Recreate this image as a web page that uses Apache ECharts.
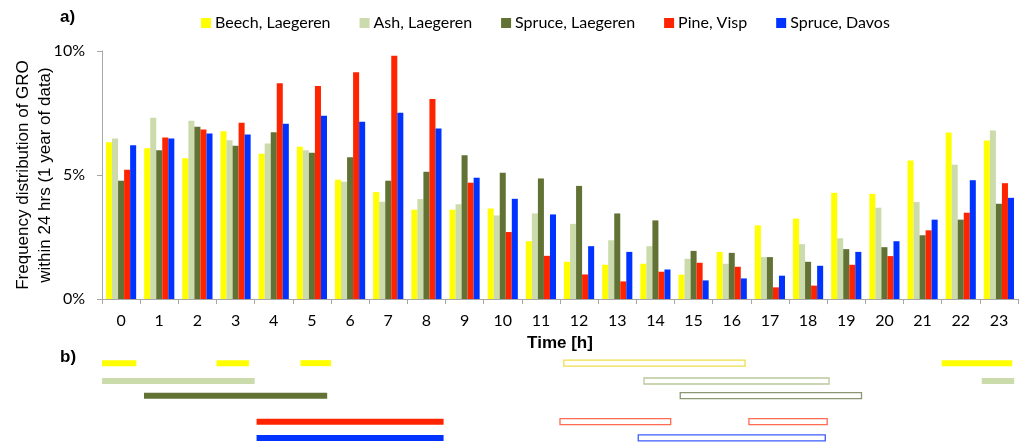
<!DOCTYPE html>
<html>
<head>
<meta charset="utf-8">
<script src="https://cdn.jsdelivr.net/npm/echarts@6/dist/echarts.min.js"></script>
<style>
html,body{margin:0;padding:0;background:#fff;}
#chart{width:1024px;height:448px;}
</style>
</head>
<body>
<div id="chart"></div>
<script>
// ---------- DATA ----------
const hours = ['0','1','2','3','4','5','6','7','8','9','10','11','12','13','14','15','16','17','18','19','20','21','22','23'];
const seriesNames = ['Beech, Laegeren','Ash, Laegeren','Spruce, Laegeren','Pine, Visp','Spruce, Davos'];
const beechLaegeren  = [6.32,6.08,5.68,6.76,5.86,6.14,4.81,4.31,3.60,3.60,3.65,2.33,1.50,1.38,1.42,0.98,1.90,2.97,3.24,4.28,4.24,5.58,6.71,6.39];
const ashLaegeren    = [6.47,7.31,7.19,6.40,6.27,6.00,4.73,3.92,4.03,3.82,3.37,3.45,3.03,2.37,2.13,1.62,1.42,1.69,2.21,2.45,3.68,3.91,5.41,6.79];
const spruceLaegeren = [4.77,6.00,6.95,6.18,6.72,5.90,5.72,4.77,5.13,5.80,5.09,4.86,4.56,3.45,3.17,1.94,1.86,1.69,1.50,2.01,2.09,2.57,3.20,3.84];
const pineVisp       = [5.21,6.51,6.83,7.11,8.70,8.59,9.14,9.81,8.06,4.69,2.70,1.74,0.99,0.71,1.10,1.46,1.30,0.47,0.54,1.38,1.73,2.77,3.48,4.67];
const spruceDavos    = [6.20,6.47,6.67,6.63,7.07,7.39,7.15,7.51,6.87,4.89,4.04,3.41,2.13,1.90,1.19,0.75,0.83,0.94,1.34,1.90,2.33,3.20,4.79,4.08];
const yTicks = [0,5,10];

// panel b: periods [startHour, endHour, filled(1) / outlined(0)]
const beechPeriods  = [[0,0.9,1],[3,3.85,1],[5.2,6,1],[22,23.85,1],[12.1,16.85,0]];
const ashPeriods    = [[0,4,1],[23.05,23.9,1],[14.2,19.05,0]];
const sprucePeriods = [[1.1,5.9,1],[15.15,19.9,0]];
const pinePeriods   = [[4.05,8.95,1],[12,14.9,0],[16.95,19,0]];
const davosPeriods  = [[4.05,8.95,1],[14.05,18.95,0]];

// ---------- STYLE / LAYOUT ----------
const colors = ['#FFFF00','#CCDBAB','#617234','#FF2400','#0033FF'];
const strokeColors = ['#EEE04A','#B9C99A','#8C9670','#FF6A50','#3D5CFF'];
const rowPos = [0,1.1,2,3.6,4.6];
const allValues = [beechLaegeren,ashLaegeren,spruceLaegeren,pineVisp,spruceDavos];
const allPeriods = [beechPeriods,ashPeriods,sprucePeriods,pinePeriods,davosPeriods];

const periodData = [];
allPeriods.forEach((arr,i)=>arr.forEach(p=>periodData.push([p[0],p[1],rowPos[i],p[2],i])));

const barSeries = allValues.map((vals,i)=>({
  name: seriesNames[i], type:'bar', data: vals,
  xAxisIndex:0, yAxisIndex:0,
  barGap:'0%', barCategoryGap:'21%',
  itemStyle:{color:colors[i]}
}));

const chart = echarts.init(document.getElementById('chart'));
chart.setOption({
  animation:false,
  backgroundColor:'#fff',
  textStyle:{fontFamily:'Liberation Sans'},
  graphic:[
    {type:'text', left:60, top:9, style:{text:'a)', font:'bold 17px "Liberation Sans"', fill:'#000'}},
    {type:'text', left:60, top:349, style:{text:'b)', font:'bold 17px "Liberation Sans"', fill:'#000'}}
  ],
  legend:{
    data:seriesNames, top:10, left:196, itemGap:29,
    icon:'rect', itemWidth:10, itemHeight:10,
    textStyle:{fontFamily:'Lato', fontSize:16, color:'#000', padding:[0,0,0,-1]}
  },
  grid:[
    {left:102, right:6, top:51, bottom:149, containLabel:false, outerBoundsMode:'none'},
    {left:102, right:6, top:355, height:91, containLabel:false, outerBoundsMode:'none'}
  ],
  xAxis:[
    {type:'category', data:hours, gridIndex:0,
     name:'Time [h]', nameLocation:'middle', nameGap:36, nameMoveOverlap:false,
     nameTextStyle:{fontFamily:'Liberation Sans', fontWeight:'bold', fontSize:17, color:'#000'},
     axisLine:{lineStyle:{color:'#A6A6A6', width:1}},
     axisTick:{show:true, length:5, lineStyle:{color:'#A6A6A6'}},
     axisLabel:{fontFamily:'Lato', fontSize:16, color:'#000', margin:14},
     splitLine:{show:false}},
    {type:'value', gridIndex:1, min:0, max:24, show:false}
  ],
  yAxis:[
    {type:'value', gridIndex:0, min:0, max:10, interval:5,
     name:'Frequency distribution of GRO\nwithin 24 hrs (1 year of data)',
     nameLocation:'middle', nameRotate:90, nameGap:46, nameMoveOverlap:false,
     nameTextStyle:{fontFamily:'Liberation Sans', fontSize:17, color:'#000', lineHeight:22},
     axisLine:{show:true, lineStyle:{color:'#A6A6A6', width:1}},
     axisTick:{show:true, length:5, lineStyle:{color:'#A6A6A6'}},
     axisLabel:{fontFamily:'Lato', fontSize:16, color:'#000', margin:17,
       formatter:v=>yTicks.indexOf(v)>=0? v+'%':''},
     splitLine:{show:false}},
    {type:'value', gridIndex:1, min:-0.5, max:5.1, inverse:true, show:false}
  ],
  series: barSeries.concat([{
    name:'periods', type:'custom', xAxisIndex:1, yAxisIndex:1,
    data: periodData, encode:{x:[0,1], y:2},
    renderItem:(params, api)=>{
      const s = api.coord([api.value(0), api.value(2)]);
      const e = api.coord([api.value(1), api.value(2)]);
      const h = 6;
      const ci = api.value(4);
      const filled = api.value(3) === 1;
      return {type:'rect',
        shape:{x:s[0], y:s[1]-h/2, width:e[0]-s[0], height:h},
        style: filled ? {fill:colors[ci]} : {fill:'#fff', stroke:strokeColors[ci], lineWidth:1.3}};
    }
  }])
});
</script>
</body>
</html>
